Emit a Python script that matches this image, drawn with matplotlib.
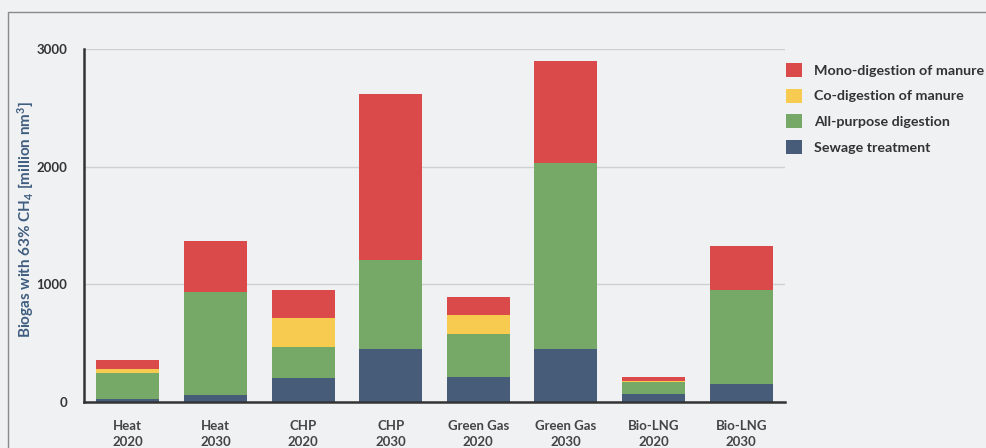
import matplotlib
matplotlib.use("Agg")
import matplotlib.pyplot as plt
from matplotlib.patches import Patch, Rectangle
import numpy as np

# Categories and values
categories = ["Heat\n2020", "Heat\n2030", "CHP\n2020", "CHP\n2030",
              "Green Gas\n2020", "Green Gas\n2030", "Bio-LNG\n2020", "Bio-LNG\n2030"]
sewage = [28, 60, 208, 450, 210, 450, 71, 153]
all_purpose = [221, 875, 259, 756, 368, 1580, 96, 797]
co_digestion = [31, 0, 247, 0, 161, 0, 14, 0]
mono_digestion = [77, 433, 238, 1411, 153, 867, 29, 375]

series_names = ["Sewage treatment", "All-purpose digestion",
                "Co-digestion of manure", "Mono-digestion of manure"]
colors = ["#465c78", "#76a867", "#f6cb50", "#db4a4a"]

plt.rcParams['font.family'] = ['Lato', 'DejaVu Sans']
plt.rcParams['font.weight'] = 'bold'
plt.rcParams['mathtext.fontset'] = 'custom'
plt.rcParams['mathtext.rm'] = 'Lato:bold'
plt.rcParams['mathtext.bf'] = 'Lato:bold'
plt.rcParams['mathtext.default'] = 'bf'

bg = "#f0f1f3"
fig = plt.figure(figsize=(9.86, 4.48), dpi=100)
fig.patch.set_facecolor(bg)

# outer frame
fig.patches.append(Rectangle((8 / 986, -0.05), 1.0, 1 - 12 / 448 + 0.05,
                             transform=fig.transFigure, fill=False,
                             edgecolor="#8a8a8a", linewidth=1.0))

ax = fig.add_axes([84 / 986, 1 - 402 / 448, (785 - 84) / 986, (402 - 49) / 448])
ax.set_facecolor(bg)

x = np.arange(len(categories))
bottom = np.zeros(len(categories))
for vals, col, name in zip([sewage, all_purpose, co_digestion, mono_digestion],
                           colors, series_names):
    ax.bar(x, vals, width=0.72, bottom=bottom, color=col, label=name, zorder=3)
    bottom += np.array(vals)

ax.set_xlim(-0.5, 7.5)
ax.set_ylim(0, 3000)
ax.set_yticks([0, 1000, 2000, 3000])
ax.grid(axis='y', color="#cfd0d2", linewidth=1.0, zorder=0)
ax.set_xticks(x)
ax.set_xticklabels(categories, fontsize=9.5, fontweight='bold', color="#444444",
                   linespacing=1.4, va='top')
for lbl in ax.get_yticklabels():
    lbl.set_fontweight('bold')
    lbl.set_fontsize(9.5)
    lbl.set_color("#333333")
ax.tick_params(axis='both', length=0)
ax.tick_params(axis='x', pad=13)
ax.tick_params(axis='y', pad=12)

for s in ['top', 'right']:
    ax.spines[s].set_visible(False)
for s in ['left', 'bottom']:
    ax.spines[s].set_color("#333333")
    ax.spines[s].set_linewidth(1.8)
    ax.spines[s].set_zorder(4)

fig.text(26 / 986, 1 - 220 / 448, r"Biogas with 63% CH$_4$ [million nm$^3$]",
         rotation=90, ha='center', va='center', fontsize=11,
         fontweight='bold', color="#3f5d7f")

handles = [Patch(facecolor=c, label=n) for c, n in zip(colors, series_names)]
handles = handles[::-1]
leg = fig.legend(handles=handles, loc='upper left',
                 bbox_to_anchor=(773 / 986, 1 - 50 / 448),
                 frameon=False, fontsize=10.3, handlelength=1.15, handleheight=1.15,
                 labelspacing=0.8, handletextpad=0.85)
for t in leg.get_texts():
    t.set_fontweight('bold')
    t.set_color("#333333")

fig.savefig("out.png", dpi=100, facecolor=bg)
